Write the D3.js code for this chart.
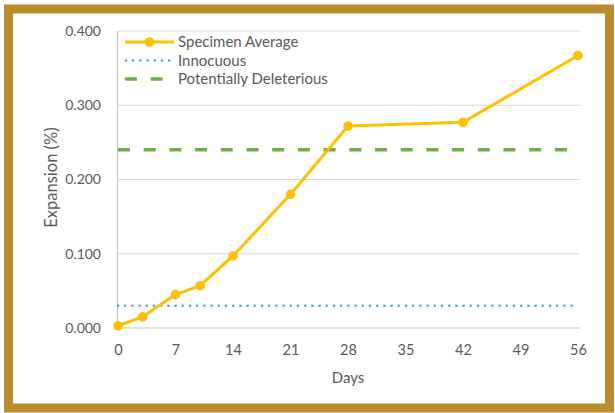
<!DOCTYPE html>
<html><head><meta charset="utf-8">
<script src="https://cdn.jsdelivr.net/npm/d3@7"></script>
<style>body{margin:0;background:#fff}svg{display:block}</style>
</head><body>
<svg id="c" width="615" height="413"></svg>
<script>
const days = [0, 3, 7, 10, 14, 21, 28, 42, 56];
const specimenAverage = [0.003, 0.015, 0.045, 0.057, 0.097, 0.180, 0.272, 0.277, 0.367];
const innocuousLimit = 0.03;
const deleteriousLimit = 0.24;
const xTicks = [0, 7, 14, 21, 28, 35, 42, 49, 56];
const yTicks = [0, 0.1, 0.2, 0.3, 0.4];
const legendLabels = ["Specimen Average", "Innocuous", "Potentially Deleterious"];

const svg = d3.select("#c");
const font = "Lato, 'Open Sans', sans-serif";
const gold = "#FFC000", blue = "#5B9BD5", green = "#70AD47", txt = "#595959", grid = "#D9D9D9";

// frame
svg.append("rect").attr("x", 0).attr("y", 0).attr("width", 615).attr("height", 413).attr("fill", "#fff");
svg.append("rect").attr("x", 8.5).attr("y", 9).attr("width", 601).attr("height", 399)
  .attr("fill", "none").attr("stroke", "#BA8E2E").attr("stroke-width", 9);

const x = d3.scaleLinear().domain([0, 56]).range([118, 578]);
const y = d3.scaleLinear().domain([0, 0.4]).range([328, 31]);

// gridlines
svg.append("g").selectAll("line").data(yTicks).join("line")
  .attr("x1", x(0)).attr("x2", x(56) + 2)
  .attr("y1", d => y(d)).attr("y2", d => y(d))
  .attr("stroke", d => d === 0 ? "#BFBFBF" : grid).attr("stroke-width", 1);
svg.append("line").attr("x1", x(0) - 0.5).attr("x2", x(0) - 0.5).attr("y1", y(0.4)).attr("y2", y(0))
  .attr("stroke", "#BFBFBF");

// axes tick labels
const yAxis = d3.axisLeft(y).tickValues(yTicks).tickFormat(d3.format(".3f")).tickSize(0).tickPadding(17);
const gy = svg.append("g").attr("transform", `translate(${x(0)},0)`).call(yAxis);
gy.select(".domain").remove();
gy.selectAll("text").attr("fill", txt).style("font-family", font).style("font-size", "14px");

const xAxis = d3.axisBottom(x).tickValues(xTicks).tickSize(0).tickPadding(17);
const gx = svg.append("g").attr("transform", `translate(0,${y(0)})`).call(xAxis);
gx.select(".domain").remove();
gx.selectAll("text").attr("fill", txt).style("font-family", font).style("font-size", "14.5px");

// axis titles
svg.append("text").attr("x", 348).attr("y", 383).attr("text-anchor", "middle")
  .attr("fill", txt).style("font-family", font).style("font-size", "15px").text("Days");
svg.append("text").attr("transform", "translate(57,177.5) rotate(-90)").attr("text-anchor", "middle")
  .attr("fill", txt).style("font-family", font).style("font-size", "16.5px").text("Expansion (%)");

// reference lines
svg.append("line").attr("x1", x(0)).attr("x2", x(56)).attr("y1", y(innocuousLimit)).attr("y2", y(innocuousLimit))
  .attr("stroke", blue).attr("stroke-width", 2.6).attr("stroke-linecap", "round").attr("stroke-dasharray", "0,7.2");
svg.append("line").attr("x1", x(0)).attr("x2", x(56)).attr("y1", y(deleteriousLimit)).attr("y2", y(deleteriousLimit))
  .attr("stroke", green).attr("stroke-width", 3.5).attr("stroke-dasharray", "12,13.7");

// series
const pts = days.map((d, i) => [d, specimenAverage[i]]);
svg.append("path").datum(pts).attr("fill", "none").attr("stroke", gold).attr("stroke-width", 3)
  .attr("stroke-linejoin", "round")
  .attr("d", d3.line().x(d => x(d[0])).y(d => y(d[1])));
svg.append("g").selectAll("circle").data(pts).join("circle")
  .attr("cx", d => x(d[0])).attr("cy", d => y(d[1])).attr("r", 4.8).attr("fill", gold);

// legend
const lg = svg.append("g");
const ly = [42, 60.5, 79];
lg.append("line").attr("x1", 125).attr("x2", 174).attr("y1", ly[0]).attr("y2", ly[0]).attr("stroke", gold).attr("stroke-width", 3);
lg.append("circle").attr("cx", 149.5).attr("cy", ly[0]).attr("r", 4.8).attr("fill", gold);
lg.append("line").attr("x1", 126).attr("x2", 174).attr("y1", ly[1]).attr("y2", ly[1]).attr("stroke", blue)
  .attr("stroke-width", 2.6).attr("stroke-linecap", "round").attr("stroke-dasharray", "0,7.2");
lg.append("line").attr("x1", 125).attr("x2", 174).attr("y1", ly[2]).attr("y2", ly[2]).attr("stroke", green)
  .attr("stroke-width", 3.5).attr("stroke-dasharray", "12,13.7");
lg.selectAll("text").data(legendLabels).join("text")
  .attr("x", 178).attr("y", (d, i) => ly[i]).attr("dy", "0.35em")
  .attr("fill", txt).style("font-family", font).style("font-size", "15px").text(d => d);
</script>
</body></html>
